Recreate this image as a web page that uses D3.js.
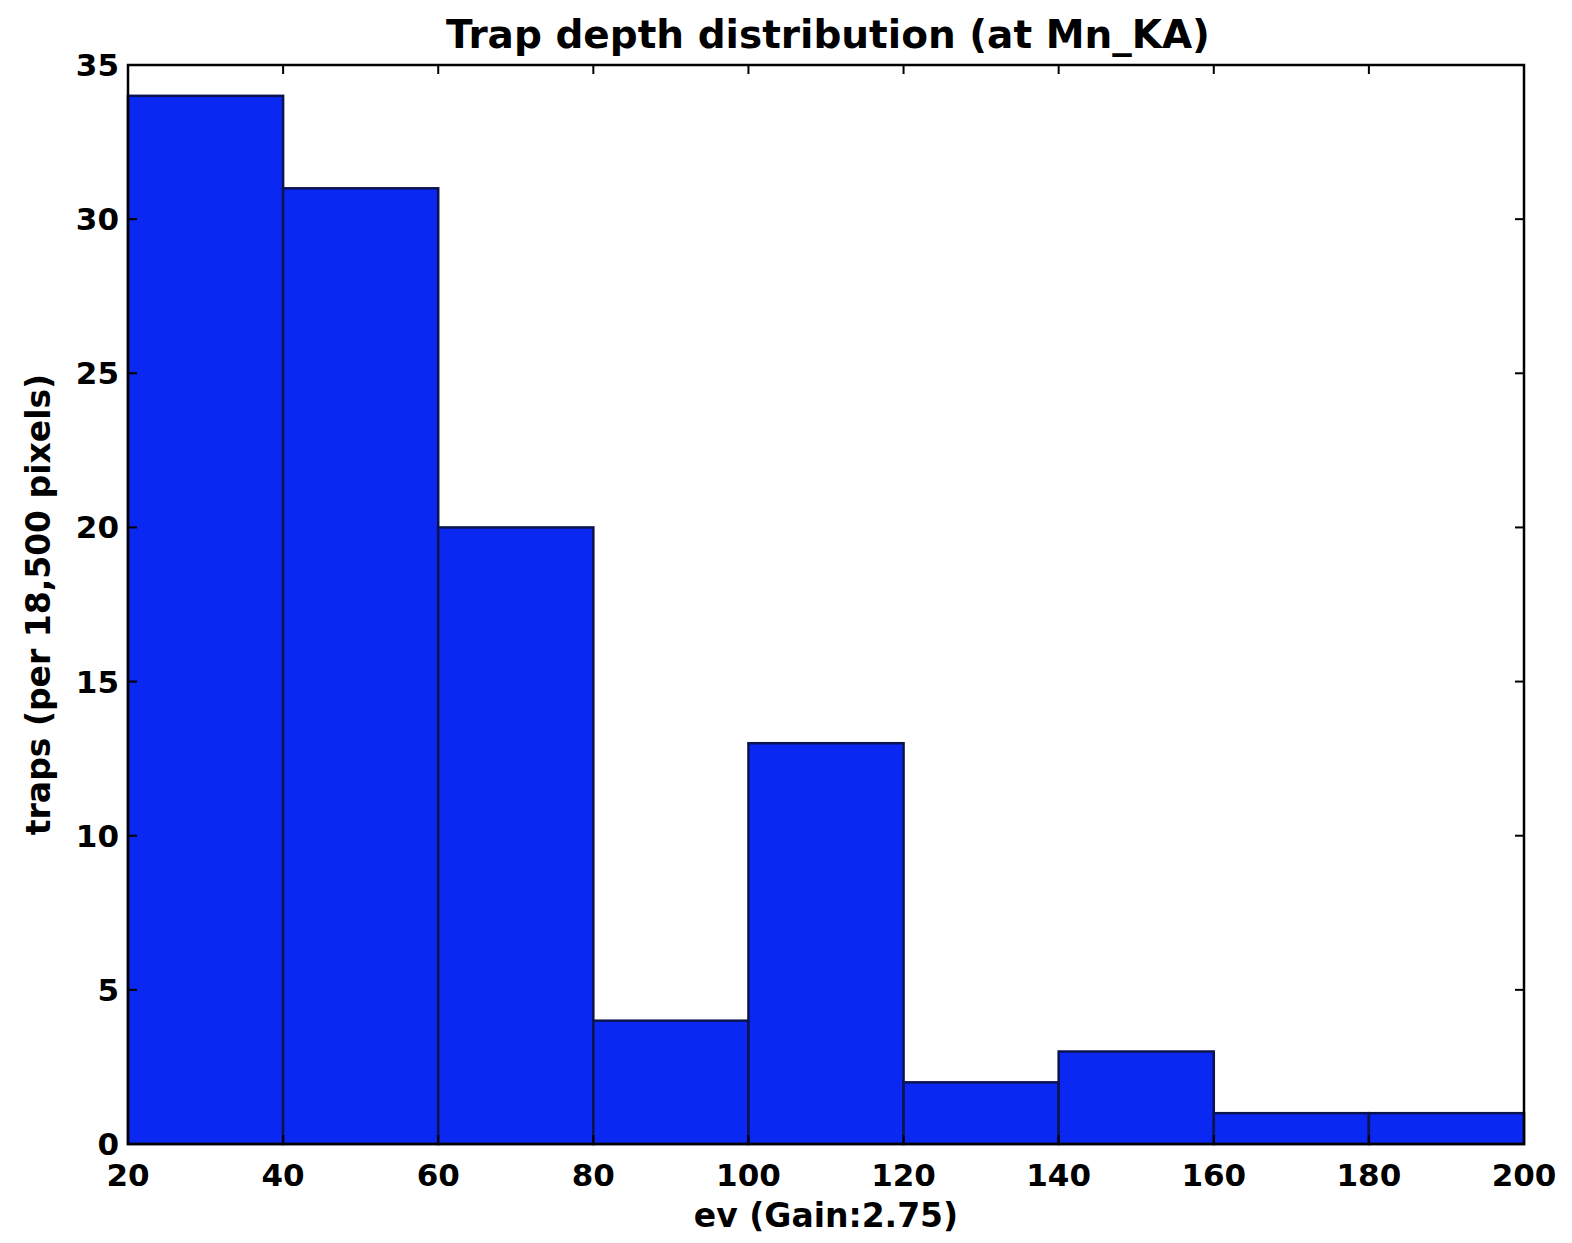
<!DOCTYPE html>
<html><head><meta charset="utf-8">
<script src="https://cdn.jsdelivr.net/npm/d3@7"></script>
<style>body{margin:0;background:#fff;}svg text{font-family:"DejaVu Sans",sans-serif;font-weight:bold;fill:#000;}</style>
</head><body>
<svg id="c" width="1572" height="1243"></svg>
<script>
const binEdges = [20,40,60,80,100,120,140,160,180,200];
const counts = [34,31,20,4,13,2,3,1,1];
const xTicks = [20,40,60,80,100,120,140,160,180,200];
const yTicks = [0,5,10,15,20,25,30,35];
const title = "Trap depth distribution (at Mn_KA)";
const xLabel = "ev (Gain:2.75)";
const yLabel = "traps (per 18,500 pixels)";

const m = {l:128, r:1524, t:65, b:1144};
const svg = d3.select("#c");
const x = d3.scaleLinear().domain([20,200]).range([m.l,m.r]);
const y = d3.scaleLinear().domain([0,35]).range([m.b,m.t]);

const bins = counts.map((c,i)=>({x0:binEdges[i],x1:binEdges[i+1],c}));
svg.append("g").selectAll("rect").data(bins).join("rect")
  .attr("x",d=>x(d.x0)).attr("y",d=>y(d.c))
  .attr("width",d=>x(d.x1)-x(d.x0)).attr("height",d=>y(0)-y(d.c))
  .attr("fill","#0a28f2").attr("stroke","#0c1450").attr("stroke-width",2.5);

const tl = 9;
const ax = svg.append("g").attr("stroke","#000").attr("stroke-width",2);
xTicks.forEach(v=>{
  ax.append("line").attr("x1",x(v)).attr("x2",x(v)).attr("y1",m.b).attr("y2",m.b-tl);
  ax.append("line").attr("x1",x(v)).attr("x2",x(v)).attr("y1",m.t).attr("y2",m.t+tl);
});
yTicks.forEach(v=>{
  ax.append("line").attr("x1",m.l).attr("x2",m.l+tl).attr("y1",y(v)).attr("y2",y(v));
  ax.append("line").attr("x1",m.r).attr("x2",m.r-tl).attr("y1",y(v)).attr("y2",y(v));
});
svg.append("rect").attr("x",m.l).attr("y",m.t).attr("width",m.r-m.l).attr("height",m.b-m.t)
  .attr("fill","none").attr("stroke","#000").attr("stroke-width",2.5);

svg.append("g").selectAll("text").data(xTicks).join("text")
  .attr("x",d=>x(d)).attr("y",m.b+42).attr("text-anchor","middle")
  .attr("font-size",31).text(d=>d);
svg.append("g").selectAll("text").data(yTicks).join("text")
  .attr("x",m.l-9).attr("y",d=>y(d)+11).attr("text-anchor","end")
  .attr("font-size",31).text(d=>d);

svg.append("text").attr("x",(m.l+m.r)/2+2).attr("y",48).attr("text-anchor","middle")
  .attr("font-size",39).text(title);
svg.append("text").attr("x",(m.l+m.r)/2).attr("y",1227).attr("text-anchor","middle")
  .attr("font-size",33).text(xLabel);
svg.append("text").attr("transform",`translate(50,${(m.t+m.b)/2}) rotate(-90)`).attr("text-anchor","middle")
  .attr("font-size",33).text(yLabel);
</script>
</body></html>
